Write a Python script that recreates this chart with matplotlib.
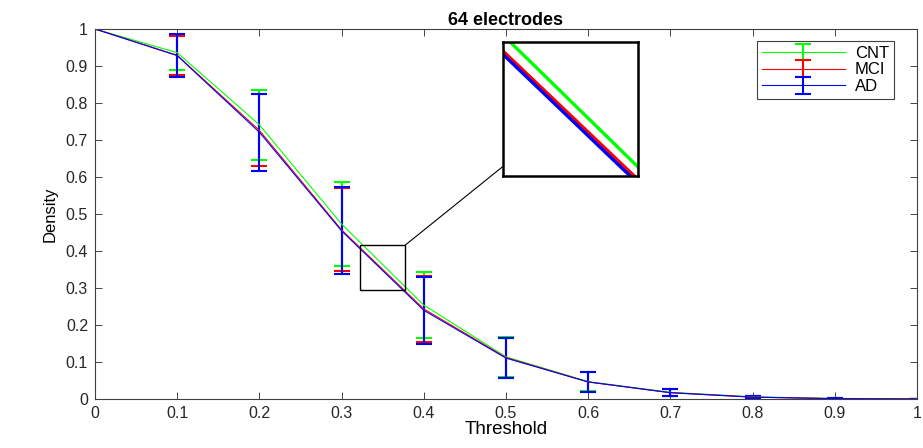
import matplotlib.pyplot as plt
from matplotlib.patches import Rectangle, ConnectionPatch

plt.rcParams['font.family'] = ['Liberation Sans', 'DejaVu Sans']

# datos
umbral = [0, 0.1, 0.2, 0.3, 0.4, 0.5, 0.6, 0.7, 0.8, 0.9, 1.0]
cnt = [1.0, 0.936, 0.741, 0.4728, 0.2536, 0.114, 0.047, 0.018, 0.006, 0.001, 0.0]
cnt_err = [0.0, 0.047, 0.095, 0.113, 0.089, 0.054, 0.026, 0.010, 0.003, 0.001, 0.0]
mci = [1.0, 0.929, 0.726, 0.457, 0.2435, 0.112, 0.046, 0.017, 0.005, 0.001, 0.0]
mci_err = [0.0, 0.053, 0.097, 0.112, 0.090, 0.054, 0.026, 0.010, 0.003, 0.001, 0.0]
ad = [1.0, 0.928, 0.721, 0.4543, 0.2397, 0.1105, 0.046, 0.017, 0.005, 0.001, 0.0]
ad_err = [0.0, 0.058, 0.104, 0.1175, 0.091, 0.054, 0.026, 0.010, 0.003, 0.001, 0.0]

series = [('CNT', cnt, cnt_err, '#00ff00'),
          ('MCI', mci, mci_err, '#ff0000'),
          ('AD', ad, ad_err, '#0000ff')]

# zona ampliada
zx = (0.323, 0.3775)
zy = (0.295, 0.416)

fig = plt.figure(figsize=(9.23, 4.48), dpi=100)
ax = fig.add_axes([0.1029, 0.1094, 0.8906, 0.8259])

for nombre, y, e, c in series:
    ax.errorbar(umbral, y, yerr=e, color=c, linewidth=0.8, elinewidth=1.5,
                capsize=6, capthick=1.5, label=nombre)

ax.set_xlim(0, 1)
ax.set_ylim(0, 1)
ax.set_xticks([i / 10 for i in range(11)])
ax.set_yticks([i / 10 for i in range(11)])
ax.set_xticklabels(['0', '0.1', '0.2', '0.3', '0.4', '0.5', '0.6', '0.7', '0.8', '0.9', '1'])
ax.set_yticklabels(['0', '0.1', '0.2', '0.3', '0.4', '0.5', '0.6', '0.7', '0.8', '0.9', '1'])
ax.tick_params(direction='in', top=True, right=True, labelsize=11.5, colors='#262626',
               length=5, width=0.6, pad=5)
for s in ax.spines.values():
    s.set_color('#404040')
    s.set_linewidth(0.8)

ax.set_title('64 electrodes', fontsize=13, fontweight='bold', pad=3)
ax.set_xlabel('Threshold', fontsize=13.5, labelpad=0)
ax.set_ylabel('Density', fontsize=12, labelpad=6)

leg = ax.legend(loc='upper right', bbox_to_anchor=(0.972, 0.968), fontsize=12,
                handlelength=5, labelspacing=0.1, fancybox=False, framealpha=1,
                borderpad=0.3, handletextpad=0.6, borderaxespad=0)
leg.get_frame().set_edgecolor('#404040')
leg.get_frame().set_linewidth(0.8)

# recuadro de la zona
ax.add_patch(Rectangle((zx[0], zy[0]), zx[1] - zx[0], zy[1] - zy[0],
                       fill=False, edgecolor='black', linewidth=1.0, zorder=5))

# eje ampliado
axin = fig.add_axes([0.5446, 0.607, 0.147, 0.2998])
for nombre, y, e, c in series:
    axin.plot(umbral, y, color=c, linewidth=2.4)
axin.set_xlim(zx)
axin.set_ylim(zy)
axin.set_xticks([])
axin.set_yticks([])
for s in axin.spines.values():
    s.set_linewidth(1.8)

con = ConnectionPatch(xyA=(zx[1], zy[1]), coordsA=ax.transData,
                      xyB=(0, 0.07), coordsB=axin.transAxes,
                      color='black', linewidth=0.8)
fig.add_artist(con)

fig.savefig('out.png', dpi=100)
